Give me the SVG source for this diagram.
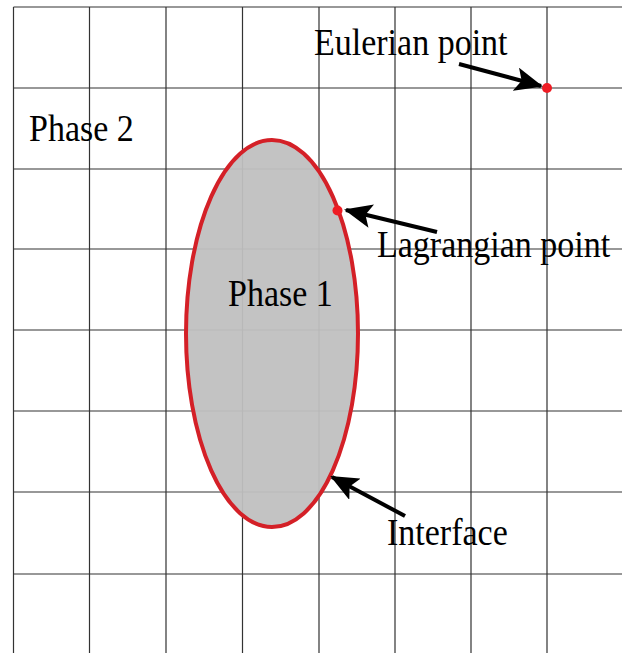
<svg xmlns="http://www.w3.org/2000/svg" width="622" height="653" viewBox="0 0 622 653">
<style>
.g{stroke:#333;stroke-width:1.2;fill:none}
.t{font-family:"Liberation Serif","Times New Roman",serif;font-size:34px;fill:#000}
.a{stroke:#000;stroke-width:4;fill:none}
.pt{fill:#ee1c24}
</style>
<defs>
<marker id="ah" markerUnits="userSpaceOnUse" markerWidth="28" markerHeight="24" refX="26" refY="12" orient="auto">
<path d="M0,0 L28,12 L0,24 L6,12 Z" fill="#000"/>
</marker>
</defs>
<rect width="622" height="653" fill="#fff"/>
<g id="grid" class="g">
<path d="M13.5,7 H622 M13.5,88 H622 M13.5,169 H622 M13.5,249 H622 M13.5,330 H622 M13.5,411 H622 M13.5,492 H622 M13.5,574 H622"/>
<path d="M13.5,7 V653 M89.5,7 V653 M166,7 V653 M242.5,7 V653 M319,7 V653 M395,7 V653 M471,7 V653 M547,7 V653"/>
</g>
<g id="phase1">
<ellipse cx="272" cy="333.5" rx="86" ry="193.5" fill="#c0c0c0" fill-opacity="0.95" stroke="#d42027" stroke-width="4"/>
<text class="t" transform="translate(228,306) scale(1,1.1)">Phase 1</text>
</g>
<g id="phase2">
<text class="t" transform="translate(29,141) scale(1,1.1)">Phase 2</text>
</g>
<g id="eulerian">
<circle class="pt" cx="547" cy="88" r="5"/>
<text class="t" transform="translate(314,55) scale(1,1.1)">Eulerian point</text>
</g>
<g id="lagrangian">
<circle class="pt" cx="337.5" cy="210.5" r="5"/>
<text class="t" transform="translate(377,257) scale(1,1.1)">Lagrangian point</text>
</g>
<g id="interface">
<text class="t" transform="translate(387,545) scale(1,1.1)">Interface</text>
</g>
<g id="connectors">
<line class="a" x1="459" y1="64" x2="541" y2="86" marker-end="url(#ah)"/>
<line class="a" x1="437" y1="232" x2="346" y2="210" marker-end="url(#ah)"/>
<line class="a" x1="405" y1="516" x2="332" y2="477" marker-end="url(#ah)"/>
</g>
</svg>
